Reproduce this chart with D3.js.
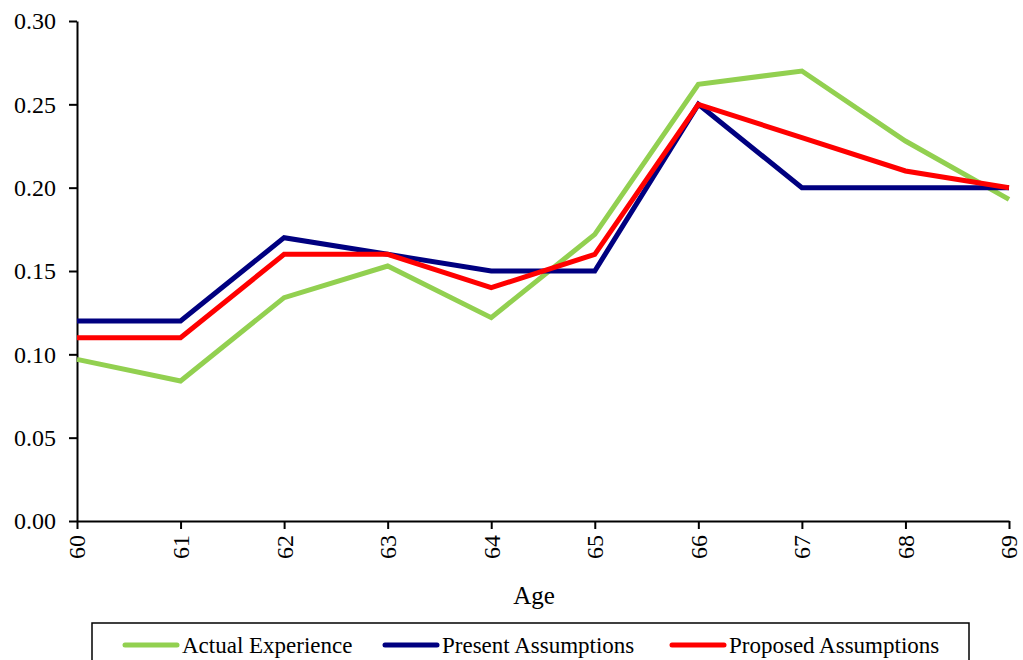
<!DOCTYPE html>
<html>
<head>
<meta charset="utf-8">
<script src="https://cdn.jsdelivr.net/npm/d3@7"></script>
<style>
  html, body { margin: 0; padding: 0; background: #fff; }
  svg { display: block; }
  text { font-family: "Liberation Serif", "Times New Roman", serif; fill: #000; }
</style>
</head>
<body>
<svg id="chart" width="1023" height="660"></svg>
<script>
// Ages on the horizontal axis
const ages = [60, 61, 62, 63, 64, 65, 66, 67, 68, 69];
// Rates for each series
const actualExperience   = [0.097, 0.084, 0.134, 0.153, 0.122, 0.172, 0.262, 0.270, 0.228, 0.193];
const presentAssumptions = [0.12, 0.12, 0.17, 0.16, 0.15, 0.15, 0.25, 0.20, 0.20, 0.20];
const proposedAssumptions = [0.11, 0.11, 0.16, 0.16, 0.14, 0.16, 0.25, 0.23, 0.21, 0.20];
const yTicks = [0, 0.05, 0.10, 0.15, 0.20, 0.25, 0.30];
const seriesNames = ["Actual Experience", "Present Assumptions", "Proposed Assumptions"];
const seriesColors = ["#92d050", "#000080", "#ff0000"];

const series = [actualExperience, presentAssumptions, proposedAssumptions].map((vals, i) => ({
  name: seriesNames[i],
  color: seriesColors[i],
  points: ages.map((a, j) => ({ age: a, value: vals[j] }))
}));

const svg = d3.select("#chart");
const plotLeft = 77, plotRight = 1009, plotTop = 21, plotBottom = 521;
const fontFamily = "Liberation Serif";

const x = d3.scaleLinear().domain([60, 69]).range([plotLeft, plotRight]);
const y = d3.scaleLinear().domain([0, 0.30]).range([plotBottom, plotTop]);

// Y axis
const yAxis = svg.append("g")
  .attr("transform", `translate(${plotLeft},0)`)
  .call(d3.axisLeft(y).tickValues(yTicks).tickFormat(d3.format(".2f")).tickSize(8).tickSizeOuter(0).tickPadding(13));
yAxis.attr("font-family", fontFamily);
yAxis.select(".domain").attr("stroke", "#000").attr("stroke-width", 2);
yAxis.selectAll(".tick line").attr("stroke", "#000").attr("stroke-width", 2);
yAxis.selectAll(".tick text").attr("font-size", 24).attr("fill", "#000");

// X axis
const xAxis = svg.append("g")
  .attr("transform", `translate(0,${plotBottom})`)
  .call(d3.axisBottom(x).tickValues(ages).tickFormat(d3.format("d")).tickSize(8).tickSizeOuter(0));
xAxis.attr("font-family", fontFamily);
xAxis.select(".domain").attr("stroke", "#000").attr("stroke-width", 2);
xAxis.selectAll(".tick line").attr("stroke", "#000").attr("stroke-width", 2);
xAxis.selectAll(".tick text")
  .attr("font-size", 24)
  .attr("fill", "#000")
  .attr("transform", "rotate(-90)")
  .attr("text-anchor", "end")
  .attr("x", -14)
  .attr("y", 0)
  .attr("dy", "0.33em");

// Axis title
svg.append("text")
  .attr("x", 534)
  .attr("y", 604)
  .attr("text-anchor", "middle")
  .attr("font-family", fontFamily)
  .attr("font-size", 25)
  .text("Age");

// Lines
const line = d3.line().x(d => x(d.age)).y(d => y(d.value));
svg.append("g").selectAll("path")
  .data(series)
  .join("path")
  .attr("d", d => line(d.points))
  .attr("fill", "none")
  .attr("stroke", d => d.color)
  .attr("stroke-width", 5)
  .attr("stroke-linejoin", "miter");

// Legend
const legend = svg.append("g");
legend.append("rect")
  .attr("x", 92).attr("y", 623)
  .attr("width", 877).attr("height", 60)
  .attr("fill", "#fff").attr("stroke", "#000").attr("stroke-width", 1.5);

const legendX = [125, 385, 672];
series.forEach((s, i) => {
  const g = legend.append("g").attr("transform", `translate(${legendX[i]},645)`);
  g.append("line")
    .attr("x1", 0).attr("x2", 52).attr("y1", 0).attr("y2", 0)
    .attr("stroke", s.color).attr("stroke-width", 5).attr("stroke-linecap", "round");
  g.append("text")
    .attr("x", 57).attr("y", 0).attr("dy", "0.35em")
    .attr("font-family", fontFamily)
    .attr("font-size", 23)
    .text(s.name);
});
</script>
</body>
</html>
